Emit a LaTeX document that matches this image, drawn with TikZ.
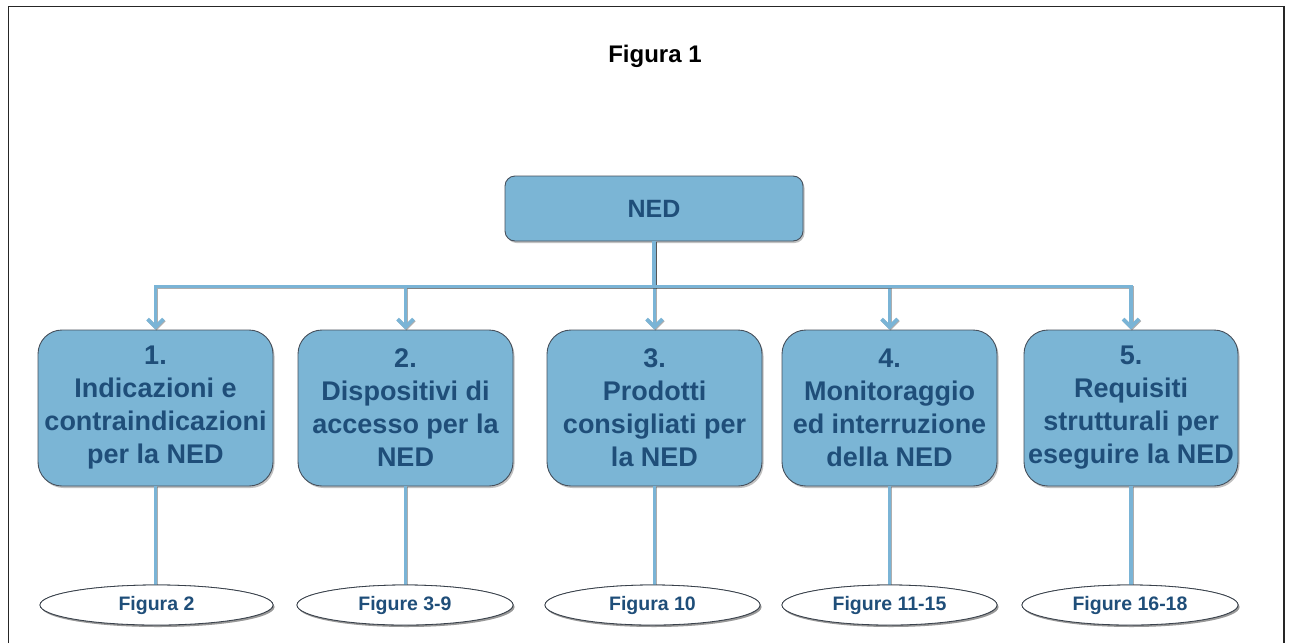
\documentclass[tikz,border=0pt]{standalone}
\usepackage{fontspec}
\setmainfont{Liberation Sans}
\usetikzlibrary{arrows.meta,shapes.geometric,shadows}
\definecolor{boxfill}{RGB}{123,181,213}
\definecolor{boxline}{RGB}{70,80,92}
\definecolor{txtblue}{RGB}{31,78,121}
\definecolor{linkblue}{RGB}{122,180,214}
\tikzset{
  shade/.style={drop shadow={shadow xshift=1.5pt,shadow yshift=-2pt,opacity=0.35,fill=black!70}},
  topbox/.style={draw=boxline, line width=0.9pt, fill=boxfill, rounded corners=10pt,
    minimum width=298pt, minimum height=65pt, text=txtblue,
    font=\fontsize{25}{29}\selectfont\bfseries, shade},
  subbox/.style={draw=boxline, line width=0.9pt, fill=boxfill, rounded corners=24pt,
    minimum height=156pt, text=txtblue, align=center, inner sep=1pt,
    font=\fontsize{27}{33}\selectfont\bfseries, shade},
  figoval/.style={ellipse, draw=boxline!80!black, line width=0.8pt, fill=white,
    minimum height=40pt, inner sep=0pt, text=txtblue,
    font=\fontsize{19.5}{23}\selectfont\bfseries, shade},
  conn/.style={draw=linkblue, line width=3.6pt,
    preaction={draw=black!70, opacity=0.45, line width=3.6pt,
      transform canvas={shift={(0.9pt,-0.9pt)}}}},
  arrowconn/.style={conn, -{Straight Barb[length=8pt,width=16pt]}},
}
\begin{document}
\begin{tikzpicture}[x=1pt,y=-1pt]
  \useasboundingbox (0,0) rectangle (1289,643);
  % outer frame, open at the bottom
  \draw[line width=1.3pt, black!85] (8.5,643) -- (8.5,6.5) -- (1284,6.5) -- (1284,643);
  \node (title) at (655,56) {\fontsize{24}{28}\selectfont\bfseries Figura 1};

  % root
  \node[topbox] (ned) at (654,208.5) {NED};

  % five topic boxes
  \node[subbox, minimum width=235pt] (b1) at (155.5,408) {1.\\Indicazioni e\\contraindicazioni\\per la NED};
  \node[subbox, minimum width=215pt] (b2) at (405.5,408) {2.\\Dispositivi di\\accesso per la\\NED};
  \node[subbox, minimum width=215pt] (b3) at (654.5,408) {3.\\Prodotti\\consigliati per\\la NED};
  \node[subbox, minimum width=215pt] (b4) at (889.5,408) {4.\\Monitoraggio\\ed interruzione\\della NED};
  \node[subbox, minimum width=214pt] (b5) at (1131,408) {5.\\Requisiti\\strutturali per\\eseguire la NED};

  % figure references
  \node[figoval, minimum width=233pt] (e1) at (156.5,605) {Figura 2};
  \node[figoval, minimum width=216pt] (e2) at (405,605) {Figure 3-9};
  \node[figoval, minimum width=215pt] (e3) at (652.5,605) {Figura 10};
  \node[figoval, minimum width=215pt] (e4) at (889.5,605) {Figure 11-15};
  \node[figoval, minimum width=216pt] (e5) at (1130,605) {Figure 16-18};

  % links from the boxes down to the ovals
  \foreach \i in {1,...,5}{
    \draw[conn] (b\i.south) -- (b\i.south |- e\i.north);
  }
  % ovals again, on top of the link ends
  \node[figoval, minimum width=233pt] at (e1) {Figura 2};
  \node[figoval, minimum width=216pt] at (e2) {Figure 3-9};
  \node[figoval, minimum width=215pt] at (e3) {Figura 10};
  \node[figoval, minimum width=215pt] at (e4) {Figure 11-15};
  \node[figoval, minimum width=216pt] at (e5) {Figure 16-18};

  % tree from the root to the boxes
  \foreach \i in {1,...,5}{
    \draw[arrowconn] (ned.south) -- ++(0,45) -| (b\i.north);
  }
\end{tikzpicture}
\end{document}
